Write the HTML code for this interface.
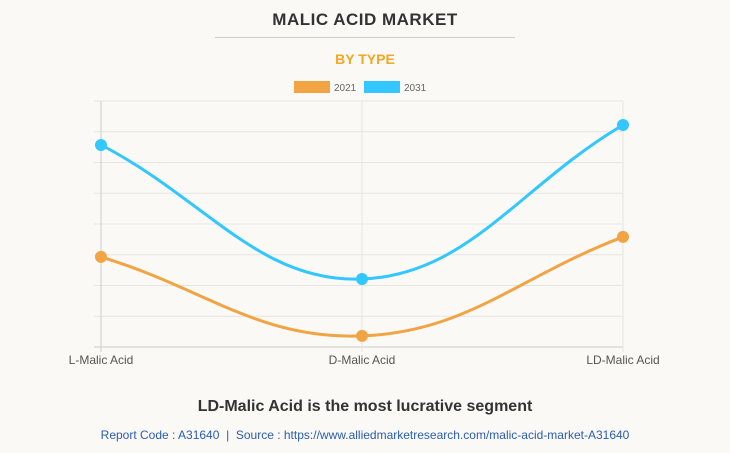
<!DOCTYPE html>
<html><head><meta charset="utf-8"><style>
body{margin:0;width:730px;height:453px;background:#faf9f5;font-family:"Liberation Sans",sans-serif;overflow:hidden;position:relative}
.t{position:absolute;left:0;width:730px;text-align:center}
</style></head><body>
<div class="t" style="top:10px;font-size:17px;font-weight:bold;color:#333;letter-spacing:0.5px">MALIC ACID MARKET</div>
<div style="position:absolute;left:215px;top:37px;width:300px;height:1px;background:#ccc"></div>
<div class="t" style="top:51px;font-size:14px;font-weight:bold;color:#f5a623">BY TYPE</div>
<svg width="730" height="453" style="position:absolute;left:0;top:0">
<g id="grid"></g><g id="series"></g>
<g>
<rect x="294" y="81" width="36" height="12" fill="#f2a444"/>
<text x="334" y="91" font-size="10" fill="#666">2021</text>
<rect x="364" y="81" width="36" height="12" fill="#33c7ff"/>
<text x="404" y="91" font-size="10" fill="#666">2031</text>
</g>
</svg>
<div class="t" style="top:398px;font-size:16px;font-weight:bold;color:#333">LD-Malic Acid is the most lucrative segment</div>
<div class="t" style="top:428px;font-size:12px;color:#2a5db0">Report Code : A31640 &nbsp;|&nbsp; Source : https://www.alliedmarketresearch.com/malic-acid-market-A31640</div>
<script>
const categories=["L-Malic Acid","D-Malic Acid","LD-Malic Acid"];
const values2021=[2.93,0.36,3.58];
const values2031=[6.57,2.21,7.22];
const yMax=8, yStep=1;
const L=101,R=623,T=101,B=347;
const NS="http://www.w3.org/2000/svg";
const xS=i=>L+i*(R-L)/(categories.length-1);
const yS=v=>B-v*(B-T)/yMax;
const grid=document.getElementById('grid'),ser=document.getElementById('series');
function mk(tag,a,p){const e=document.createElementNS(NS,tag);for(const k in a)e.setAttribute(k,a[k]);p.appendChild(e);return e;}
for(let v=0;v<=yMax;v+=yStep){const y=yS(v);
const g=mk('line',{x1:94,x2:R,y1:y,y2:y,stroke:v===0?'#ccc':'#e6e5e1','stroke-width':1},grid);

}
categories.forEach((c,i)=>{const x=xS(i);
const g=mk('line',{x1:x,x2:x,y1:T,y2:B+5,stroke:i===0?'#ccc':'#e6e5e1'},grid);


const t=mk('text',{x:x,y:B+17,'text-anchor':'middle','font-size':12,fill:'#555'},grid);t.textContent=c;

});
function path(vals){const p=vals.map((v,i)=>[xS(i),yS(v)]);const tn=0.4;let d=`M${p[0][0]},${p[0][1]}`;
const cps=p.map((pt,i)=>{const pr=p[Math.max(i-1,0)],nx=p[Math.min(i+1,p.length-1)];
const d01=Math.hypot(pt[0]-pr[0],pt[1]-pr[1]),d12=Math.hypot(nx[0]-pt[0],nx[1]-pt[1]);
let fa=d01/(d01+d12)||0,fb=d12/(d01+d12)||0;fa*=tn;fb*=tn;
return{p:[pt[0]-fa*(nx[0]-pr[0]),pt[1]-fa*(nx[1]-pr[1])],n:[pt[0]+fb*(nx[0]-pr[0]),pt[1]+fb*(nx[1]-pr[1])]};});
for(let i=1;i<p.length;i++)d+=` C${cps[i-1].n[0]},${cps[i-1].n[1]} ${cps[i].p[0]},${cps[i].p[1]} ${p[i][0]},${p[i][1]}`;return d;}
[[values2031,'#33c7ff','2031'],[values2021,'#f2a444','2021']].forEach(([vals,col,nm])=>{
const l=mk('path',{d:path(vals),fill:'none',stroke:col,'stroke-width':3},ser);


vals.forEach((v,i)=>{const c=mk('circle',{cx:xS(i),cy:yS(v),r:6,fill:col},ser);

});});
</script>
</body></html>
